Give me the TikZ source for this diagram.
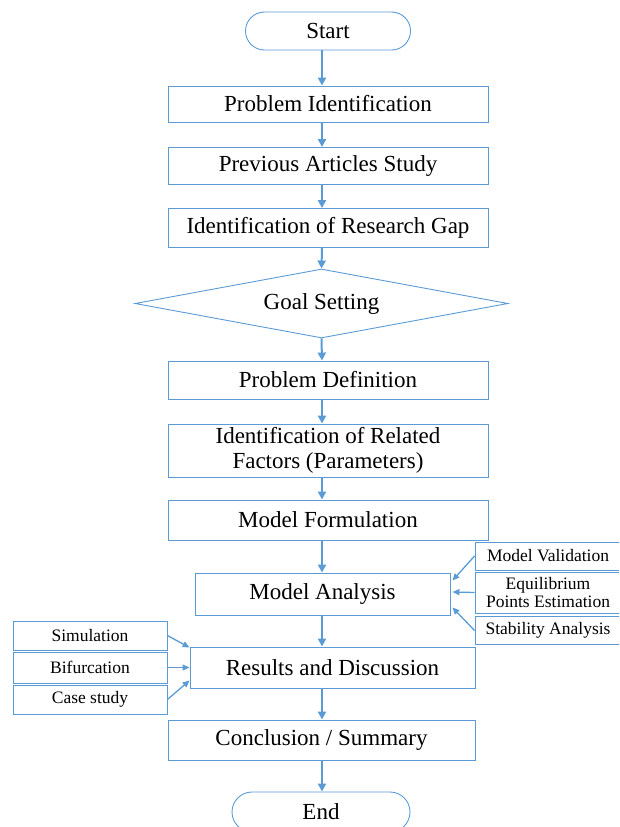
\documentclass[tikz,border=0pt]{standalone}
\usepackage{fontspec}
\setmainfont{Liberation Serif}
\usetikzlibrary{shapes.geometric,shapes.misc,arrows.meta,calc}
\definecolor{bl}{HTML}{5B9BD5}
\begin{document}
\begin{tikzpicture}[x=1pt,y=-1pt,
  box/.style={draw=bl,line width=0.9pt,rectangle,inner sep=0pt,font=\fontsize{23}{25}\selectfont,align=center},
  sbox/.style={draw=bl,line width=0.9pt,rectangle,inner sep=0pt,font=\fontsize{17.5}{18}\selectfont,align=center},
  term/.style={draw=bl,line width=0.9pt,rounded rectangle,inner sep=0pt,font=\fontsize{23}{25}\selectfont},
  arr/.style={draw=bl,line width=2pt,-{Triangle[length=8pt,width=8pt]}},
  sarr/.style={draw=bl,line width=1.3pt,-{Triangle[length=7pt,width=6pt]}}]
\useasboundingbox (0,0) rectangle (619,827);
\clip (0,0) rectangle (619,827);
\node[term,minimum width=165pt,minimum height=38pt] (start) at (328,31) {Start};
\node[box,minimum width=320pt,minimum height=36pt] (pi) at (328,104) {Problem Identification};
\node[box,minimum width=320pt,minimum height=37pt] (pa) at (328,166) {Previous Articles Study};
\node[box,minimum width=320pt,minimum height=39pt] (rg) at (328,228) {Identification of Research Gap};
\node[draw=bl,line width=0.9pt,diamond,aspect=5.4,inner sep=0pt,minimum width=373pt,minimum height=69pt,font=\fontsize{23}{25}\selectfont] (gs) at (321.5,303.5) {Goal Setting};
\node[box,minimum width=320pt,minimum height=38pt] (pd) at (328,380) {Problem Definition};
\node[box,minimum width=320pt,minimum height=53pt] (rf) at (328,450.5) {Identification of Related\\Factors (Parameters)};
\node[box,minimum width=320pt,minimum height=40pt] (mf) at (328,520) {Model Formulation};
\node[box,minimum width=255pt,minimum height=42pt] (ma) at (322.5,594) {Model Analysis};
\node[sbox,minimum width=146pt,minimum height=28pt] (mv) at (548,556) {Model Validation};
\node[sbox,minimum width=146pt,minimum height=41pt] (ep) at (548,592.5) {Equilibrium\\Points Estimation};
\node[sbox,minimum width=146pt,minimum height=28pt] (sa) at (548,630.5) {Stability Analysis};
\node[box,minimum width=285pt,minimum height=41pt] (rd) at (332.5,667.5) {Results and Discussion};
\node[sbox,minimum width=154pt,minimum height=29pt] (si) at (90,635.5) {Simulation};
\node[sbox,minimum width=154pt,minimum height=31pt] (bi) at (90,667.5) {Bifurcation};
\node[sbox,minimum width=154pt,minimum height=29pt] (cs) at (90,699.5) {Case study};
\node[box,minimum width=307pt,minimum height=40pt] (cc) at (321.5,740) {Conclusion / Summary};
\node[term,minimum width=178pt,minimum height=40pt] (en) at (321,812) {End};
\coordinate (sx) at (322,0);
\draw[arr] (start.south -| sx) -- (sx |- pi.north);
\draw[arr] (pi.south -| sx) -- (sx |- pa.north);
\draw[arr] (pa.south -| sx) -- (sx |- rg.north);
\draw[arr] (rg.south -| sx) -- (gs.north);
\draw[arr] (gs.south) -- (sx |- pd.north);
\draw[arr] (pd.south -| sx) -- (sx |- rf.north);
\draw[arr] (rf.south -| sx) -- (sx |- mf.north);
\draw[arr] (mf.south -| sx) -- (sx |- ma.north);
\draw[arr] (ma.south -| sx) -- (sx |- rd.north);
\draw[arr] (rd.south -| sx) -- (sx |- cc.north);
\draw[arr] (cc.south -| sx) -- (sx |- en.north);
\draw[sarr] (mv.west) -- ($(ma.north east)+(2,8)$);
\draw[sarr] (ep.west) -- ($(ma.east)+(2,-2)$);
\draw[sarr] (sa.west) -- ($(ma.south east)+(2,-8)$);
\draw[sarr] (si.east) -- ($(rd.north west)+(0,1)$);
\draw[sarr] (bi.east) -- (rd.west);
\draw[sarr] (cs.east) -- ($(rd.south west)+(0,-8)$);
\end{tikzpicture}
\end{document}
